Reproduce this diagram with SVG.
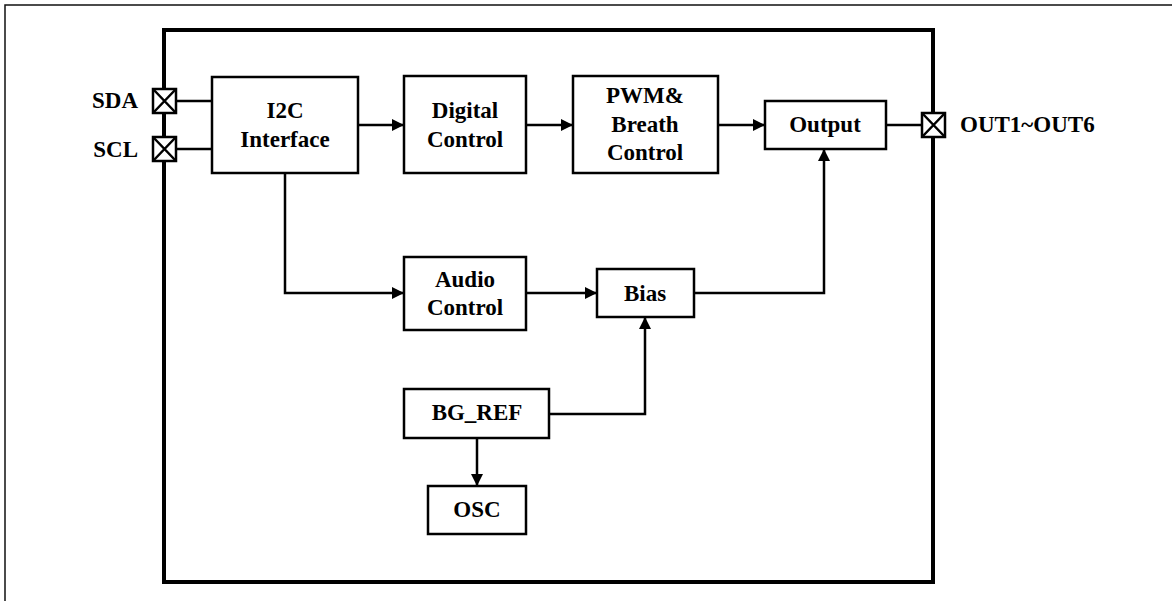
<svg xmlns="http://www.w3.org/2000/svg" width="1172" height="601" viewBox="0 0 1172 601">
<style>
.blk{fill:#fff;stroke:#000;stroke-width:2.5}
.t{font-family:"Liberation Serif","Times New Roman",serif;font-weight:bold;font-size:23px;fill:#000;text-anchor:middle}
.lab{font-family:"Liberation Serif","Times New Roman",serif;font-weight:bold;font-size:23px;fill:#000}
.w{fill:none;stroke:#000;stroke-width:2.5}
.pad{fill:#fff;stroke:#000;stroke-width:2.5}
</style>
<defs>
<marker id="ah" viewBox="0 0 12 12" refX="12" refY="6" markerWidth="12" markerHeight="12" markerUnits="userSpaceOnUse" orient="auto">
<path d="M0,0 L12,6 L0,12 Z" fill="#000"/>
</marker>
</defs>
<rect x="0" y="0" width="1172" height="601" fill="#fff"/>
<rect x="5" y="5" width="1200" height="700" fill="none" stroke="#111" stroke-width="1.5"/>
<rect id="chip" x="164" y="30" width="769" height="552" fill="none" stroke="#000" stroke-width="4"/>

<g id="connectors">
<line class="w" x1="177" y1="101" x2="212" y2="101"/>
<line class="w" x1="177" y1="149" x2="212" y2="149"/>
<line class="w" x1="358" y1="125" x2="404" y2="125" marker-end="url(#ah)"/>
<line class="w" x1="526" y1="125" x2="573" y2="125" marker-end="url(#ah)"/>
<line class="w" x1="718" y1="125" x2="765" y2="125" marker-end="url(#ah)"/>
<line class="w" x1="886" y1="125" x2="921" y2="125"/>
<polyline class="w" points="285,173 285,293 404,293" marker-end="url(#ah)"/>
<line class="w" x1="526" y1="293" x2="597" y2="293" marker-end="url(#ah)"/>
<polyline class="w" points="694,293 824,293 824,149" marker-end="url(#ah)"/>
<polyline class="w" points="549,414 645,414 645,317" marker-end="url(#ah)"/>
<line class="w" x1="477" y1="438" x2="477" y2="486" marker-end="url(#ah)"/>
</g>

<g id="pad-sda">
<rect class="pad" x="153" y="89" width="23" height="24"/>
<path class="w" d="M153,89 L176,113 M176,89 L153,113"/>
<text class="lab" x="138" y="108" text-anchor="end">SDA</text>
</g>
<g id="pad-scl">
<rect class="pad" x="153" y="137" width="23" height="24"/>
<path class="w" d="M153,137 L176,161 M176,137 L153,161"/>
<text class="lab" x="138" y="157" text-anchor="end">SCL</text>
</g>
<g id="pad-out">
<rect class="pad" x="922" y="113" width="23" height="24"/>
<path class="w" d="M922,113 L945,137 M945,113 L922,137"/>
<text class="lab" x="960" y="132">OUT1~OUT6</text>
</g>

<g id="i2c">
<rect class="blk" x="212" y="77" width="146" height="96"/>
<text class="t" x="285" y="118">I2C</text>
<text class="t" x="285" y="147">Interface</text>
</g>
<g id="digital">
<rect class="blk" x="404" y="76" width="122" height="97"/>
<text class="t" x="465" y="118">Digital</text>
<text class="t" x="465" y="147">Control</text>
</g>
<g id="pwm">
<rect class="blk" x="573" y="76" width="145" height="97"/>
<text class="t" x="645" y="103">PWM&amp;</text>
<text class="t" x="645" y="132">Breath</text>
<text class="t" x="645" y="160">Control</text>
</g>
<g id="output">
<rect class="blk" x="765" y="101" width="121" height="48"/>
<text class="t" x="825" y="132">Output</text>
</g>
<g id="audio">
<rect class="blk" x="404" y="257" width="122" height="73"/>
<text class="t" x="465" y="287">Audio</text>
<text class="t" x="465" y="315">Control</text>
</g>
<g id="bias">
<rect class="blk" x="597" y="269" width="97" height="48"/>
<text class="t" x="645" y="301">Bias</text>
</g>
<g id="bgref">
<rect class="blk" x="404" y="389" width="145" height="49"/>
<text class="t" x="477" y="420">BG_REF</text>
</g>
<g id="osc">
<rect class="blk" x="428" y="486" width="98" height="48"/>
<text class="t" x="477" y="517">OSC</text>
</g>
</svg>
